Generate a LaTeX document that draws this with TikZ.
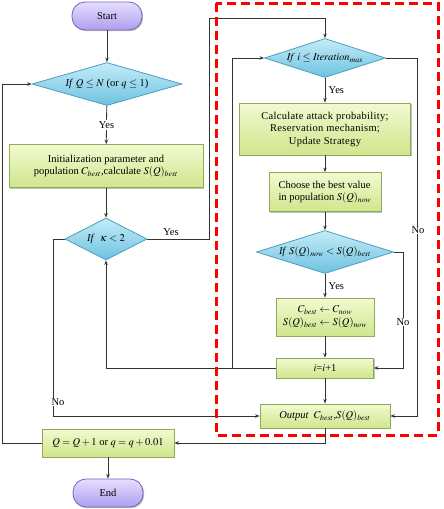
\documentclass[tikz,border=0pt]{standalone}
\usepackage{mathptmx}
\usepackage{fontspec}
\setmainfont{Liberation Serif}
\usetikzlibrary{shapes.geometric, arrows.meta, shadows}

\definecolor{boxtop}{HTML}{F2FAD0}
\definecolor{boxbot}{HTML}{CFE68C}
\definecolor{boxedge}{HTML}{8FA85A}
\definecolor{diatop}{HTML}{C4ECF8}
\definecolor{diabot}{HTML}{6DC2E0}
\definecolor{diaedge}{HTML}{4A9FC0}
\definecolor{termtop}{HTML}{E6DEFF}
\definecolor{termbot}{HTML}{AE9EEE}
\definecolor{termedge}{HTML}{7262BE}
\definecolor{linegray}{HTML}{333333}

\begin{document}
\begin{tikzpicture}[x=1pt, y=-1pt,
    >={Stealth[length=4.5pt, width=3.5pt]},
    every node/.style={font=\fontsize{10.5}{12.5}\selectfont},
    flow/.style={draw=linegray, line width=0.8pt},
    greenbox/.style={rectangle, draw=boxedge, top color=boxtop, bottom color=boxbot,
        line width=0.8pt, align=center, inner sep=2pt,
        drop shadow={shadow xshift=1.2pt, shadow yshift=-1.2pt, fill=black!40, opacity=0.6}},
    decision/.style={diamond, draw=diaedge, top color=diatop, bottom color=diabot,
        line width=0.8pt, inner sep=0pt, shape aspect=3.2},
    terminal/.style={rectangle, rounded corners=13pt, draw=termedge, top color=termtop,
        bottom color=termbot, line width=0.8pt, minimum width=70pt, minimum height=28pt,
        drop shadow={shadow xshift=1.2pt, shadow yshift=-1.2pt, fill=black!40, opacity=0.6}}
]
\useasboundingbox (0,0) rectangle (444,509);

% Outer loop
\node[terminal] (start) at (107,16) {Start};
\node[decision, minimum width=150pt, minimum height=43pt] (d1) at (107,84)
    {\textit{If} $Q\leq N$ (or $q\leq 1$)};
\node[greenbox, minimum width=194pt, minimum height=43pt] (init) at (106,166)
    {Initialization parameter and\\ population $C_{best}$,calculate $S(Q)_{best}$};
\node[decision, minimum width=82pt, minimum height=42pt] (d2) at (106,239)
    {\textit{If}\ \ $\kappa<2$};
\node[greenbox, minimum width=132pt, minimum height=28pt] (update) at (108,443)
    {$Q=Q+1$ or $q=q+0.01$};
\node[terminal] (end) at (108,493) {End};

% Inner loop
\node[decision, minimum width=121pt, minimum height=39pt] (d3) at (325,58)
    {$\mathit{If}\ i\leq \mathit{Iteration}_{max}$};
\node[greenbox, minimum width=171pt, minimum height=52pt] (calc) at (325,129)
    {\addfontfeatures{LetterSpace=3}Calculate attack probability;\\
     \addfontfeatures{LetterSpace=3}Reservation mechanism;\\
     \addfontfeatures{LetterSpace=3}Update Strategy};
\node[greenbox, minimum width=112pt, minimum height=39pt, align=left] (choose) at (325,192)
    {Choose the best value\\ in population $S(Q)_{now}$};
\node[decision, minimum width=137pt, minimum height=43pt] (d4) at (325,252)
    {\textit{If} $S(Q)_{now}<S(Q)_{best}$};
\node[greenbox, minimum width=98pt, minimum height=38pt] (swap) at (325,317)
    {$C_{best}\leftarrow C_{now}$\\[1pt] $S(Q)_{best}\leftarrow S(Q)_{now}$};
\node[greenbox, minimum width=97pt, minimum height=20pt] (inc) at (325,368) {$i$=$i$+1};
\node[greenbox, minimum width=130pt, minimum height=24pt] (out) at (325,416)
    {\textit{Output}\ \ $C_{best}$,$S(Q)_{best}$};

% Turning points
\coordinate (outer) at (2,443);
\coordinate (noturn) at (53,416);
\coordinate (backi) at (232,368);
\coordinate (d3no) at (417,416);
\coordinate (d4no) at (403,368);

% Main column
\draw[flow,->] (start) -- (d1);
\draw[flow,->] (d1) -- node[fill=white, inner sep=1.5pt] {Yes} (init);
\draw[flow,->] (init) -- (d2);
\draw[flow,->] (update) -- (end);

\draw[flow,->] (d3) -- node[right] {Yes} (calc);
\draw[flow,->] (calc) -- (choose);
\draw[flow,->] (choose) -- (d4);
\draw[flow,->] (d4) -- node[right] {Yes} (swap);
\draw[flow,->] (swap) -- (inc);
\draw[flow,->] (inc) -- (out);

% Branches
\draw[flow,->] (d2.east) -- node[above, pos=0.38] {Yes} ++(62,0) -- ++(0,-221) -| (d3.north);
\draw[flow,->] (d2.west) -| (noturn) -- (out.west);
\node[fill=white, inner sep=1pt] (no2) at (58,402) {No};
\draw[flow,->] (d3.east) -| (d3no) -- (out.east);
\node[fill=white, inner sep=1pt] (no3) at (418,230) {No};
\draw[flow,->] (d4.east) -| (d4no) -- (inc.east);
\node[fill=white, inner sep=1pt] (no4) at (403,322) {No};
\draw[flow,->] (inc.west) -- (backi) |- (d3.west);
\draw[flow,->] (inc.west) -| (d2.south);
\draw[flow,->] (out.south) |- (update.east);
\draw[flow,->] (update.west) -- (outer) |- (d1.west);

% Inner loop frame
\draw[red, line width=3pt, dash pattern=on 9pt off 5pt] (216,3) rectangle (438,435);
\end{tikzpicture}
\end{document}
